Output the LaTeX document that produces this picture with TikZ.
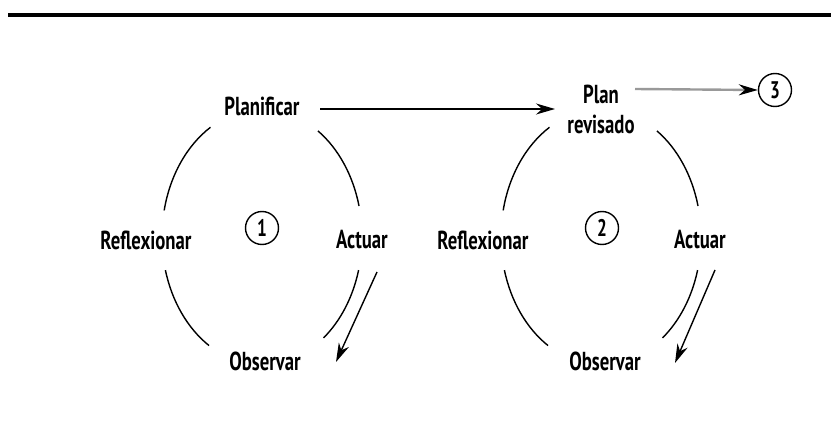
\documentclass[tikz,border=0pt]{standalone}
\usepackage{fontspec}
\setmainfont{PT Sans}[FakeStretch=0.72]
\usetikzlibrary{arrows.meta}
\begin{document}
\begin{tikzpicture}[x=1pt,y=-1pt,
  lbl/.style={font=\bfseries\fontsize{26}{30}\selectfont, inner sep=1pt},
  num/.style={circle, draw, line width=1.4pt, minimum size=33pt, inner sep=0pt, font=\bfseries\fontsize{24}{24}\selectfont},
  cyc/.style={line width=1.4pt},
  arr/.style={line width=1.4pt, -{Stealth[length=19pt,width=11pt]}}]
\useasboundingbox (0,0) rectangle (831,439);
\draw[line width=3.5pt] (8,15) -- (831,15);
% cycle 1
\node[lbl] (plan1) at (262,106) {Planificar};
\node[lbl] (refl1) at (146,240) {Reflexionar};
\node[lbl] (act1) at (362,240) {Actuar};
\node[lbl] (obs1) at (265,361) {Observar};
\node[num] (n1) at (262,228) {1};
\coordinate (c1) at (262,237);
\draw[cyc] (c1) ++(121:100 and -128) arc[start angle=121,end angle=168,x radius=100,y radius=-128];
\draw[cyc] (c1) ++(195:100 and -128) arc[start angle=195,end angle=238,x radius=100,y radius=-128];
\draw[cyc] (c1) ++(56:100 and -128) arc[start angle=56,end angle=14,x radius=100,y radius=-128];
\draw[cyc] (c1) ++(-15:100 and -128) arc[start angle=-15,end angle=-52,x radius=100,y radius=-128];
\coordinate (a1s) at (377,272);
\coordinate (a1e) at (336,362);
\draw[arr] (a1s) -- (a1e);
% cycle 2
\node[lbl, align=center] (plan2) at (601,109) {Plan\\revisado};
\node[lbl] (refl2) at (483,240) {Reflexionar};
\node[lbl] (act2) at (700,240) {Actuar};
\node[lbl] (obs2) at (605,361) {Observar};
\node[num] (n2) at (602,228) {2};
\coordinate (c2) at (601,237);
\draw[cyc] (c2) ++(121:100 and -128) arc[start angle=121,end angle=168,x radius=100,y radius=-128];
\draw[cyc] (c2) ++(195:100 and -128) arc[start angle=195,end angle=238,x radius=100,y radius=-128];
\draw[cyc] (c2) ++(56:100 and -128) arc[start angle=56,end angle=14,x radius=100,y radius=-128];
\draw[cyc] (c2) ++(-15:100 and -128) arc[start angle=-15,end angle=-52,x radius=100,y radius=-128];
\coordinate (a2s) at (715,270);
\coordinate (a2e) at (675,363);
\draw[arr] (a2s) -- (a2e);
% connectors
\node[num] (n3) at (775,90) {3};
\coordinate (p1e) at (320,109);
\coordinate (p2w) at (555,109);
\draw[arr] (p1e) -- (p2w);
\coordinate (p2e) at (635,89);
\draw[line width=2.4pt, gray!80, -{Stealth[length=19pt,width=11pt,black]}] (p2e) -- (n3.west);
\end{tikzpicture}
\end{document}
